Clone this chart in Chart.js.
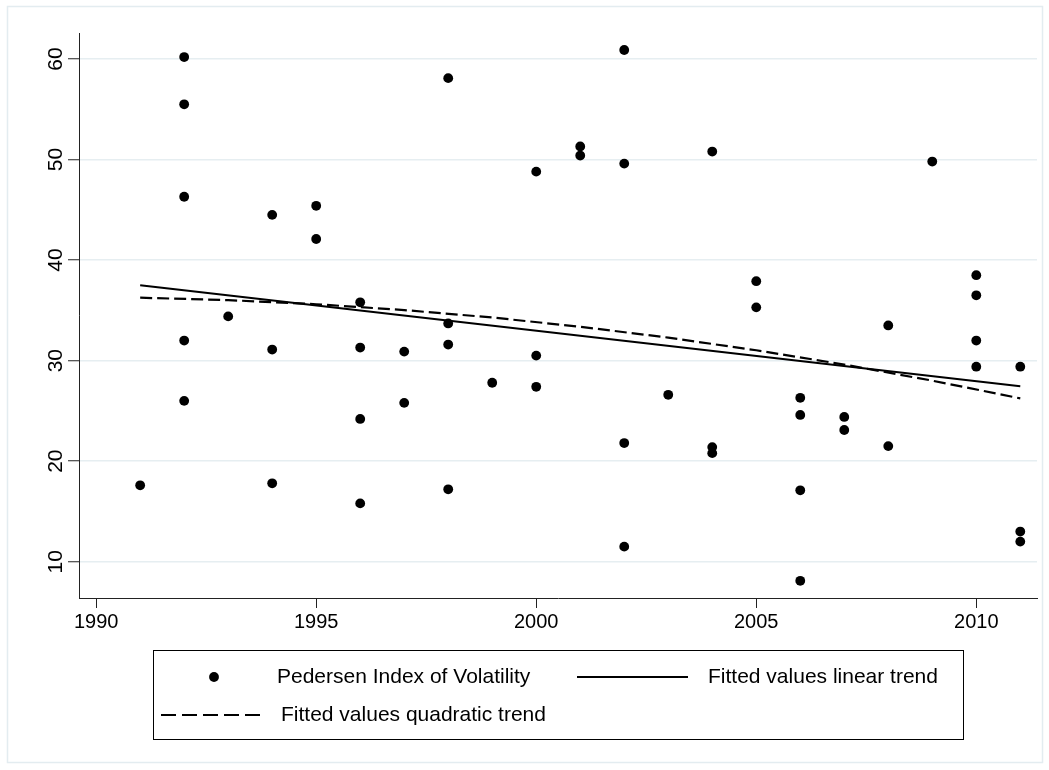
<!DOCTYPE html>
<html><head><meta charset="utf-8">
<script src="https://cdn.jsdelivr.net/npm/chart.js@4.4.0/dist/chart.umd.min.js"></script>
<style>html,body{margin:0;padding:0;background:#fff}#wrap{width:1049px;height:770px;position:relative}</style>
</head><body><div id="wrap"><canvas id="c"></canvas></div>
<script>
// Pedersen Index of Volatility (one entry per observation)
const volYears = [1991,
  1992,1992,1992,1992,1992,
  1993,
  1994,1994,1994,
  1995,1995,
  1996,1996,1996,1996,
  1997,1997,
  1998,1998,1998,1998,
  1999,
  2000,2000,2000,
  2001,2001,
  2002,2002,2002,2002,
  2003,
  2004,2004,2004,
  2005,2005,
  2006,2006,2006,2006,
  2007,2007,
  2008,2008,
  2009,
  2010,2010,2010,2010,
  2011,2011,2011];
const volValues = [17.6,
  60.2,55.5,46.3,32.0,26.0,
  34.4,
  44.5,31.1,17.8,
  45.4,42.1,
  35.8,31.3,24.2,15.8,
  30.9,25.8,
  58.1,33.7,31.6,17.2,
  27.8,
  48.8,30.5,27.4,
  51.3,50.4,
  60.9,49.6,21.8,11.5,
  26.6,
  50.8,21.4,20.8,
  37.9,35.3,
  26.3,24.6,17.1,8.1,
  24.4,23.1,
  33.5,21.5,
  49.8,
  38.5,36.5,32.0,29.4,
  29.4,13.0,12.0];
// Fitted values linear trend
const linYears = [1991, 2011];
const linValues = [37.5, 27.45];
// Fitted values quadratic trend
const quadYears = [1991,1993,1995,1997,1999,2001,2003,2005,2007,2009,2011];
const quadValues = [36.26,36.02,35.61,35.03,34.29,33.37,32.29,31.03,29.61,28.01,26.25];
// Axes
const xTickValues = [1990,1995,2000,2005,2010];
const yTickValues = [10,20,30,40,50,60];
const seriesLabels = ['Pedersen Index of Volatility','Fitted values linear trend','Fitted values quadratic trend'];

const FONT = '"Liberation Sans", Arial, Helvetica, sans-serif';
const DASH = [12, 5];
const LEGEND_DASH = [15, 6];

const framePlugin = {
  id: 'frame',
  beforeDraw(chart) {
    const c = chart.ctx;
    c.save();
    c.fillStyle = '#fff';
    c.fillRect(0, 0, chart.width, chart.height);
    c.strokeStyle = '#e3ecf0';
    c.lineWidth = 1.5;
    c.strokeRect(7.5, 6.5, 1035, 756);
    c.restore();
  }
};

const legendPlugin = {
  id: 'stataLegend',
  afterDraw(chart) {
    const c = chart.ctx;
    const ds = chart.data.datasets;
    c.save();
    c.strokeStyle = '#000';
    c.lineWidth = 1;
    c.strokeRect(153.5, 650.5, 810, 89);
    c.font = '21px ' + FONT;
    c.fillStyle = '#000';
    c.textBaseline = 'middle';
    c.textAlign = 'left';
    const r1 = 677, r2 = 715;
    c.beginPath();
    c.arc(214, r1, 4.9, 0, Math.PI * 2);
    c.fill();
    c.fillText(ds[0].label, 277, r1);
    c.lineWidth = 2.2;
    c.setLineDash([]);
    c.beginPath();
    c.moveTo(577, r1); c.lineTo(688, r1);
    c.stroke();
    c.fillText(ds[1].label, 708, r1);
    c.setLineDash(LEGEND_DASH);
    c.beginPath();
    c.moveTo(161, r2); c.lineTo(260, r2);
    c.stroke();
    c.setLineDash([]);
    c.fillText(ds[2].label, 281, r2);
    c.restore();
  }
};

new Chart(document.getElementById('c'), {
  type: 'scatter',
  data: {
    datasets: [
      {
        label: seriesLabels[0],
        data: volYears.map((x, i) => ({x: x, y: volValues[i]})),
        pointRadius: 4.9,
        pointBackgroundColor: '#000',
        pointBorderWidth: 0,
        showLine: false,
        order: 1
      },
      {
        label: seriesLabels[1],
        data: linYears.map((x, i) => ({x: x, y: linValues[i]})),
        showLine: true,
        borderColor: '#000',
        borderWidth: 2.2,
        pointRadius: 0,
        fill: false,
        tension: 0,
        order: 2
      },
      {
        label: seriesLabels[2],
        data: quadYears.map((x, i) => ({x: x, y: quadValues[i]})),
        showLine: true,
        borderColor: '#000',
        borderWidth: 2.2,
        borderDash: DASH,
        pointRadius: 0,
        fill: false,
        tension: 0,
        order: 3
      }
    ]
  },
  options: {
    responsive: true,
    maintainAspectRatio: false,
    animation: false,
    layout: {padding: {top: 33, right: 12, left: 0, bottom: 0}},
    plugins: {legend: {display: false}, tooltip: {enabled: false}},
    scales: {
      x: {
        type: 'linear',
        min: 1989.61,
        max: 2011.38,
        afterBuildTicks: s => { s.ticks = xTickValues.map(v => ({value: v})); },
        afterFit: s => { s.height = 172; },
        grid: {display: true, drawOnChartArea: false, drawTicks: true, tickLength: 10, tickColor: '#222', tickWidth: 1},
        border: {display: true, color: '#222', width: 1},
        ticks: {font: {family: FONT, size: 20}, color: '#000', padding: 2, maxRotation: 0, autoSkip: false,
                callback: v => String(v)}
      },
      y: {
        type: 'linear',
        min: 6.39,
        max: 62.59,
        afterBuildTicks: s => { s.ticks = yTickValues.map(v => ({value: v})); },
        afterFit: s => { s.width = 79; },
        grid: {color: '#e6eef1', lineWidth: 1.5, drawTicks: true, tickLength: 11, tickColor: '#222', tickWidth: 1},
        border: {display: true, color: '#222', width: 1},
        ticks: {font: {family: FONT, size: 21}, color: '#000', minRotation: 90, maxRotation: 90, crossAlign: 'center', padding: 0, autoSkip: false,
                callback: v => String(v)}
      }
    }
  },
  plugins: [framePlugin, legendPlugin]
});
</script>
</body></html>
